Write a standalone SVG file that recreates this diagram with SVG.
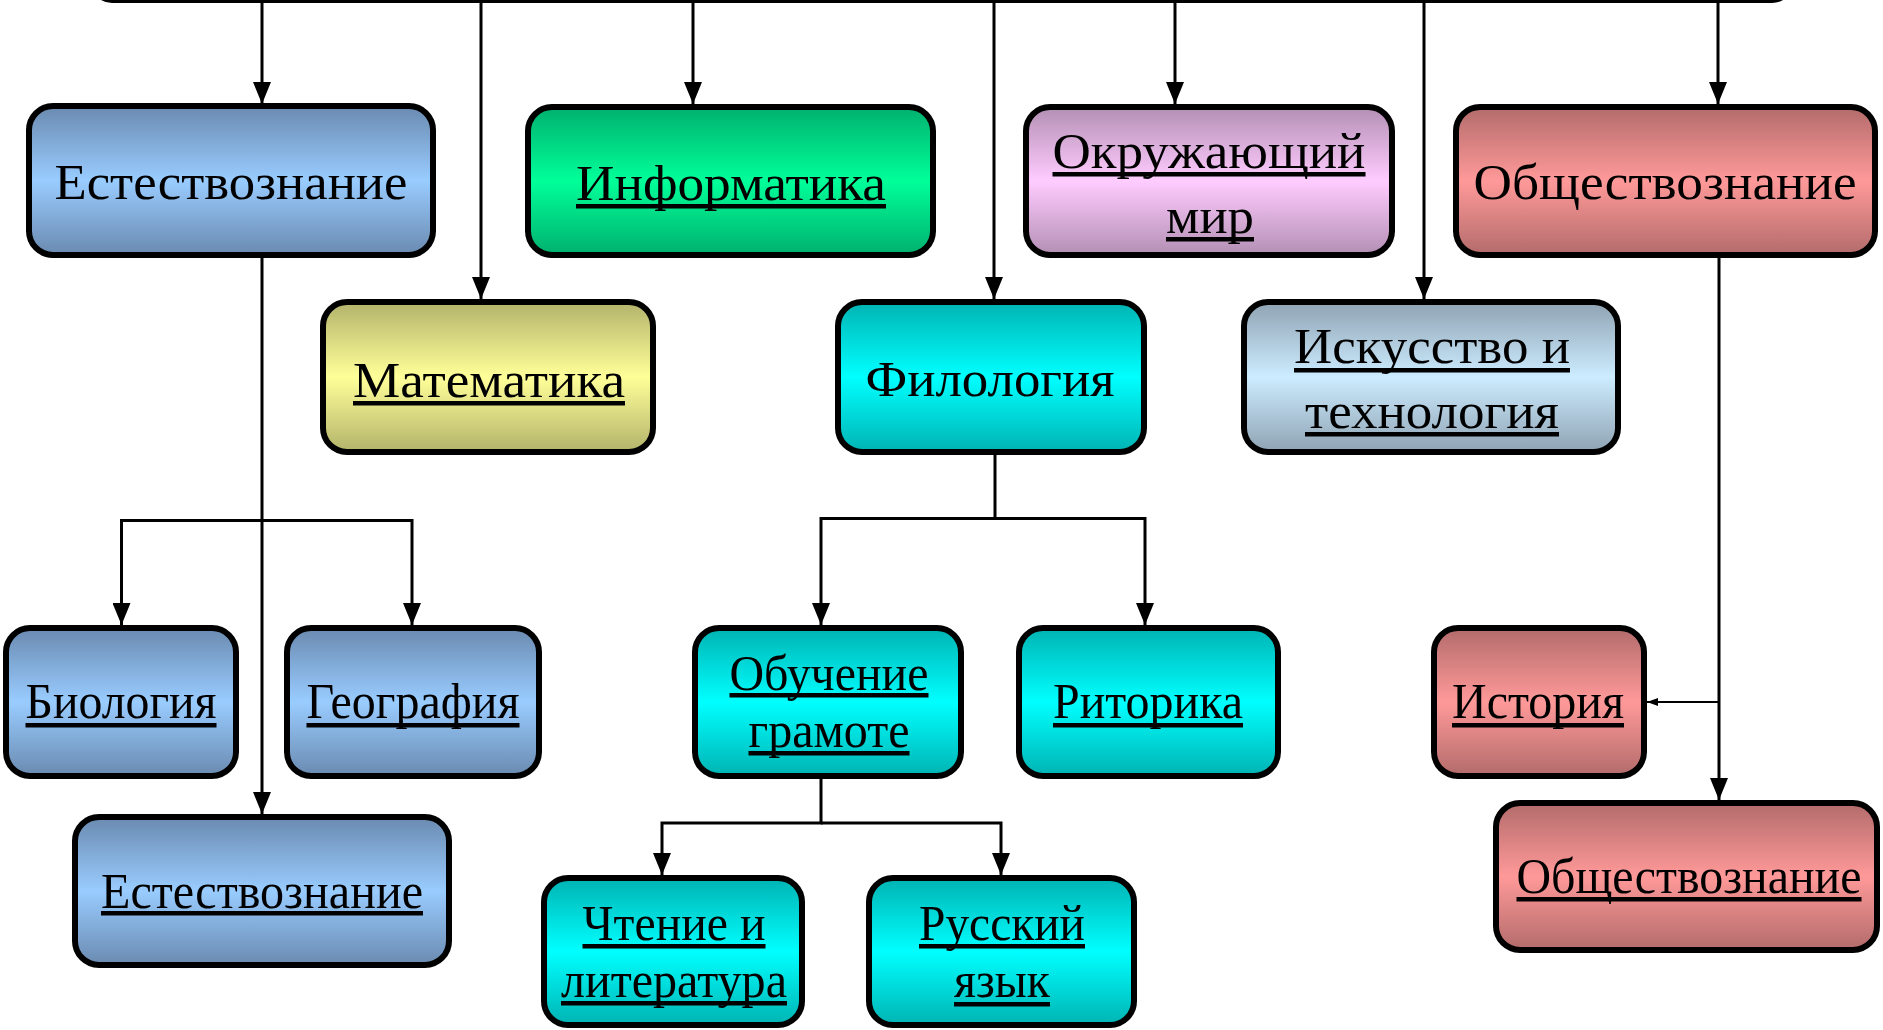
<svg xmlns="http://www.w3.org/2000/svg" width="1883" height="1030" viewBox="0 0 1883 1030">
<style>
.box{stroke:#000;stroke-width:6}
.t{font-family:"Liberation Serif","Times New Roman",serif;font-size:50px;fill:#000;text-anchor:middle}
.u{fill:#000}
.c{fill:none;stroke:#000;stroke-width:3}
.cs{fill:none;stroke:#000;stroke-width:2}
</style>
<defs>
<linearGradient id="gBlue" x1="0" y1="0" x2="0" y2="1"><stop offset="0" stop-color="#6A8AB0"/><stop offset="0.5" stop-color="#99CCFF"/><stop offset="1" stop-color="#6A8AB0"/></linearGradient>
<linearGradient id="gGreen" x1="0" y1="0" x2="0" y2="1"><stop offset="0" stop-color="#00B06E"/><stop offset="0.5" stop-color="#00FF99"/><stop offset="1" stop-color="#00B06E"/></linearGradient>
<linearGradient id="gYellow" x1="0" y1="0" x2="0" y2="1"><stop offset="0" stop-color="#B3B36B"/><stop offset="0.5" stop-color="#FFFF99"/><stop offset="1" stop-color="#B3B36B"/></linearGradient>
<linearGradient id="gCyan" x1="0" y1="0" x2="0" y2="1"><stop offset="0" stop-color="#00B3B3"/><stop offset="0.5" stop-color="#00FFFF"/><stop offset="1" stop-color="#00B3B3"/></linearGradient>
<linearGradient id="gPurple" x1="0" y1="0" x2="0" y2="1"><stop offset="0" stop-color="#B38FB3"/><stop offset="0.5" stop-color="#FFCCFF"/><stop offset="1" stop-color="#B38FB3"/></linearGradient>
<linearGradient id="gGrey" x1="0" y1="0" x2="0" y2="1"><stop offset="0" stop-color="#8FA3B3"/><stop offset="0.5" stop-color="#CCECFF"/><stop offset="1" stop-color="#8FA3B3"/></linearGradient>
<linearGradient id="gRed" x1="0" y1="0" x2="0" y2="1"><stop offset="0" stop-color="#B36B6B"/><stop offset="0.5" stop-color="#FF9999"/><stop offset="1" stop-color="#B36B6B"/></linearGradient>
<marker id="arr" viewBox="0 0 22 18" markerWidth="22" markerHeight="18" refX="22" refY="9" orient="auto" markerUnits="userSpaceOnUse"><path d="M0,0 L22,9 L0,18 z" fill="#000"/></marker>
<marker id="arrS" viewBox="0 0 11 8" markerWidth="11" markerHeight="8" refX="11" refY="4" orient="auto" markerUnits="userSpaceOnUse"><path d="M0,0 L11,4 L0,8 z" fill="#000"/></marker>
</defs>

<g id="connectors">
<rect x="92" y="-60" width="1700" height="61.5" rx="20" class="c"/>
<path class="c" d="M262,1.5 V104" marker-end="url(#arr)"/>
<path class="c" d="M481,1.5 V299" marker-end="url(#arr)"/>
<path class="c" d="M693,1.5 V104" marker-end="url(#arr)"/>
<path class="c" d="M994,1.5 V299" marker-end="url(#arr)"/>
<path class="c" d="M1175,1.5 V104" marker-end="url(#arr)"/>
<path class="c" d="M1424,1.5 V299" marker-end="url(#arr)"/>
<path class="c" d="M1718,1.5 V104" marker-end="url(#arr)"/>
<path class="c" d="M262,258 V814" marker-end="url(#arr)"/>
<path class="c" d="M262,520.5 H121.5 V625" marker-end="url(#arr)"/>
<path class="c" d="M262,520.5 H412 V625" marker-end="url(#arr)"/>
<path class="c" d="M995,455 V518.5 H821 V625" marker-end="url(#arr)"/>
<path class="c" d="M995,518.5 H1145 V625" marker-end="url(#arr)"/>
<path class="c" d="M821,779 V823 H662 V875" marker-end="url(#arr)"/>
<path class="c" d="M821,823 H1001 V875" marker-end="url(#arr)"/>
<path class="c" d="M1719,258 V800" marker-end="url(#arr)"/>
<path class="cs" d="M1719,702 H1647" marker-end="url(#arrS)"/>
</g>

<g id="n-estestvo1"><rect class="box" x="29" y="106" width="404" height="149" rx="24" fill="url(#gBlue)"/><text class="t" x="231" y="199" textLength="353" lengthAdjust="spacingAndGlyphs">Естествознание</text></g>
<g id="n-informatika"><rect class="box" x="528" y="107" width="405" height="148" rx="24" fill="url(#gGreen)"/><text class="t" x="731" y="200" textLength="310" lengthAdjust="spacingAndGlyphs">Информатика</text><rect class="u" x="576" y="204" width="310" height="4.5"/></g>
<g id="n-okr"><rect class="box" x="1026" y="107" width="366" height="148" rx="24" fill="url(#gPurple)"/><text class="t" x="1209" y="168" textLength="313" lengthAdjust="spacingAndGlyphs">Окружающий</text><rect class="u" x="1052.5" y="172" width="313" height="4.5"/><text class="t" x="1210" y="233" textLength="88" lengthAdjust="spacingAndGlyphs">мир</text><rect class="u" x="1166" y="237" width="88" height="4.5"/></g>
<g id="n-obsh1"><rect class="box" x="1456" y="107" width="419" height="148" rx="24" fill="url(#gRed)"/><text class="t" x="1665" y="199" textLength="383" lengthAdjust="spacingAndGlyphs">Обществознание</text></g>
<g id="n-matem"><rect class="box" x="323" y="302" width="330" height="150" rx="24" fill="url(#gYellow)"/><text class="t" x="489" y="397" textLength="272" lengthAdjust="spacingAndGlyphs">Математика</text><rect class="u" x="353" y="401" width="272" height="4.5"/></g>
<g id="n-filol"><rect class="box" x="838" y="302" width="306" height="150" rx="24" fill="url(#gCyan)"/><text class="t" x="990" y="396" textLength="249" lengthAdjust="spacingAndGlyphs">Филология</text></g>
<g id="n-iskus"><rect class="box" x="1244" y="302" width="374" height="150" rx="24" fill="url(#gGrey)"/><text class="t" x="1432" y="363" textLength="276" lengthAdjust="spacingAndGlyphs">Искусство и</text><rect class="u" x="1294" y="368" width="276" height="4.5"/><text class="t" x="1432" y="428" textLength="254" lengthAdjust="spacingAndGlyphs">технология</text><rect class="u" x="1305" y="432" width="254" height="4.5"/></g>
<g id="n-bio"><rect class="box" x="6" y="628" width="230" height="148" rx="24" fill="url(#gBlue)"/><text class="t" x="121" y="718" textLength="191" lengthAdjust="spacingAndGlyphs">Биология</text><rect class="u" x="25.5" y="723" width="191" height="4.5"/></g>
<g id="n-geo"><rect class="box" x="287" y="628" width="252" height="148" rx="24" fill="url(#gBlue)"/><text class="t" x="413" y="718" textLength="213" lengthAdjust="spacingAndGlyphs">География</text><rect class="u" x="306.5" y="723" width="213" height="4.5"/></g>
<g id="n-estestvo2"><rect class="box" x="75" y="817" width="374" height="148" rx="24" fill="url(#gBlue)"/><text class="t" x="262" y="908" textLength="322" lengthAdjust="spacingAndGlyphs">Естествознание</text><rect class="u" x="101" y="911" width="322" height="4.5"/></g>
<g id="n-obuch"><rect class="box" x="695" y="628" width="266" height="148" rx="24" fill="url(#gCyan)"/><text class="t" x="829" y="690" textLength="199" lengthAdjust="spacingAndGlyphs">Обучение</text><rect class="u" x="729.5" y="693" width="199" height="4.5"/><text class="t" x="829" y="747" textLength="161" lengthAdjust="spacingAndGlyphs">грамоте</text><rect class="u" x="748.5" y="751" width="161" height="4.5"/></g>
<g id="n-ritor"><rect class="box" x="1019" y="628" width="259" height="148" rx="24" fill="url(#gCyan)"/><text class="t" x="1148" y="718" textLength="190" lengthAdjust="spacingAndGlyphs">Риторика</text><rect class="u" x="1053" y="723" width="190" height="4.5"/></g>
<g id="n-istor"><rect class="box" x="1434" y="628" width="210" height="148" rx="24" fill="url(#gRed)"/><text class="t" x="1538" y="718" textLength="172" lengthAdjust="spacingAndGlyphs">История</text><rect class="u" x="1452" y="723" width="172" height="4.5"/></g>
<g id="n-obsh2"><rect class="box" x="1496" y="803" width="381" height="147" rx="24" fill="url(#gRed)"/><text class="t" x="1689" y="893" textLength="345" lengthAdjust="spacingAndGlyphs">Обществознание</text><rect class="u" x="1516.5" y="897" width="345" height="4.5"/></g>
<g id="n-chtenie"><rect class="box" x="544" y="878" width="258" height="147" rx="24" fill="url(#gCyan)"/><text class="t" x="674" y="940" textLength="183" lengthAdjust="spacingAndGlyphs">Чтение и</text><rect class="u" x="582.5" y="944" width="183" height="4.5"/><text class="t" x="674" y="997" textLength="226" lengthAdjust="spacingAndGlyphs">литература</text><rect class="u" x="561" y="1001" width="226" height="4.5"/></g>
<g id="n-russk"><rect class="box" x="869" y="878" width="265" height="147" rx="24" fill="url(#gCyan)"/><text class="t" x="1002" y="940" textLength="166" lengthAdjust="spacingAndGlyphs">Русский</text><rect class="u" x="919" y="944" width="166" height="4.5"/><text class="t" x="1002" y="997" textLength="96" lengthAdjust="spacingAndGlyphs">язык</text><rect class="u" x="954" y="1002" width="96" height="4.5"/></g>
</svg>
